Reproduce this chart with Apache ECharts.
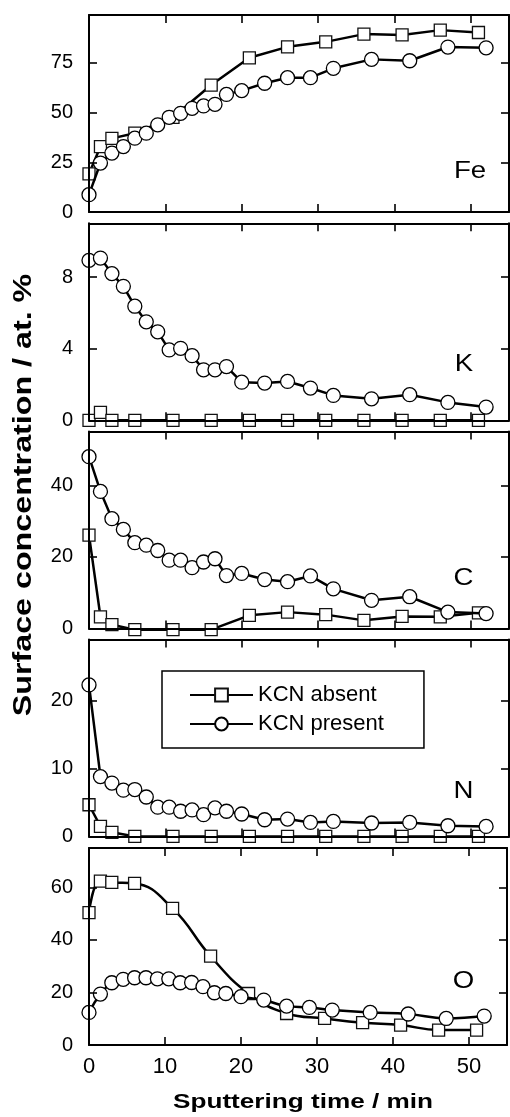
<!DOCTYPE html>
<html><head><meta charset="utf-8">
<script src="https://cdn.jsdelivr.net/npm/echarts@6/dist/echarts.min.js"></script>
<style>html,body{margin:0;padding:0;background:#fff}#c{width:510px;height:1117px}</style>
</head><body><div id="c"></div>
<script>
// ---- data ----
const timeAbsent = [0, 1.5, 3, 6, 11, 16, 21, 26, 31, 36, 41, 46, 51];
const timePresent = [0, 1.5, 3, 4.5, 6, 7.5, 9, 10.5, 12, 13.5, 15, 16.5, 18, 20, 23, 26, 29, 32, 37, 42, 47, 52];
const feAbsent = [19.2, 32.9, 37, 39.6, 47.6, 63.8, 77.5, 83, 85.5, 89.4, 89, 91.4, 90.2];
const fePresent = [8.7, 24.6, 29.6, 32.9, 37.1, 39.6, 43.8, 47.6, 49.6, 52.1, 53.3, 54.1, 59.1, 61, 64.7, 67.5, 67.5, 72.2, 76.7, 76, 82.9, 82.5];
const kAbsent = [0, 0.44, 0, 0, 0, 0, 0, 0, 0, 0, 0, 0, 0];
const kPresent = [8.93, 9.06, 8.19, 7.48, 6.37, 5.5, 4.94, 3.93, 4.02, 3.61, 2.82, 2.82, 3.0, 2.13, 2.08, 2.17, 1.8, 1.39, 1.2, 1.43, 1.0, 0.74];
const cAbsent = [26.1, 3.3, 1.1, -0.3, -0.3, -0.3, 3.7, 4.6, 3.9, 2.3, 3.4, 3.3, 4.4];
const cPresent = [48.0, 38.3, 30.7, 27.7, 24.0, 23.3, 21.8, 19.1, 19.1, 17.0, 18.6, 19.5, 14.8, 15.4, 13.7, 13.1, 14.7, 11.1, 7.9, 8.9, 4.6, 4.2];
const nAbsent = [4.66, 1.47, 0.6, 0, 0, 0, 0, 0, 0, 0, 0, 0, 0];
const nPresent = [22.3, 8.8, 7.85, 6.8, 6.9, 5.8, 4.3, 4.3, 3.7, 3.9, 3.2, 4.2, 3.7, 3.3, 2.45, 2.55, 2.06, 2.2, 1.97, 2.06, 1.57, 1.47];
const oAbsent = [50.4, 62.4, 61.9, 61.5, 52.0, 33.8, 19.6, 12.0, 10.1, 8.5, 7.6, 5.7, 5.7];
const oPresent = [12.4, 19.4, 23.7, 25.0, 25.6, 25.6, 25.2, 25.2, 23.7, 23.8, 22.2, 19.9, 19.6, 18.4, 17.1, 14.8, 14.3, 13.3, 12.4, 11.8, 10.1, 11.0];
const panelNames = ['Fe', 'K', 'C', 'N', 'O'];
const yMax = [99, 11, 55, 29, 75];
const yStep = [25, 4, 20, 10, 20];
const xMax = 55, xStep = 10;
const seriesNames = ['KCN absent', 'KCN present'];
const xTitle = 'Sputtering time / min';
const yTitle = 'Surface concentration / at. %';

// ---- layout ----
const absentAll = [feAbsent, kAbsent, cAbsent, nAbsent, oAbsent];
const presentAll = [fePresent, kPresent, cPresent, nPresent, oPresent];
const tops = [15, 223.3, 431.6, 639.4, 848];
const H = 197;
const labelPos = [[470, 171.5], [464, 364.7], [463.5, 578], [463.5, 791.7], [463.5, 981.7]];
const FONT = '"Liberation Sans", Arial, sans-serif';

const grids = [], xAxes = [], yAxes = [], series = [], graphics = [];
const lineAx = {show: true, onZero: false, lineStyle: {color: '#000', width: 2}};
const tickAx = {show: true, inside: true, length: 8, lineStyle: {color: '#000', width: 1.6}};

for (let i = 0; i < 5; i++) {
  grids.push({left: 89, top: tops[i], width: 420, height: H});
  const last = i === 4;
  xAxes.push({gridIndex: i, type: 'value', min: 0, max: xMax, interval: xStep, position: 'bottom', z: 5,
    axisLine: lineAx, axisTick: tickAx, splitLine: {show: false},
    axisLabel: {show: last, margin: 11, fontSize: 22, color: '#000', fontFamily: FONT,
      formatter: v => (v % xStep === 0 ? String(v) : '')}});
  xAxes.push({gridIndex: i, type: 'value', min: 0, max: xMax, interval: xStep, position: 'top', z: 5,
    axisLine: lineAx, axisTick: tickAx, splitLine: {show: false}, axisLabel: {show: false}});
  const st = yStep[i];
  yAxes.push({gridIndex: i, type: 'value', min: 0, max: yMax[i], interval: st, position: 'left', z: 5,
    axisLine: lineAx, axisTick: tickAx, splitLine: {show: false},
    axisLabel: {margin: 16, fontSize: 20, color: '#000', fontFamily: FONT,
      formatter: v => (v % st === 0 ? String(v) : '')}});
  yAxes.push({gridIndex: i, type: 'value', min: 0, max: yMax[i], interval: st, position: 'right', z: 5,
    axisLine: lineAx, axisTick: tickAx, splitLine: {show: false}, axisLabel: {show: false}});
  const smooth = i === 4 ? 0.45 : false;
  series.push({name: seriesNames[0], type: 'line', xAxisIndex: 2 * i, yAxisIndex: 2 * i, z: 2, clip: false,
    data: timeAbsent.map((t, j) => [t, absentAll[i][j]]), smooth: smooth,
    symbol: 'rect', symbolSize: 12,
    itemStyle: {color: '#fff', borderColor: '#111', borderWidth: 1.3},
    lineStyle: {color: '#000', width: 2.5}, emphasis: {disabled: true}});
  series.push({name: seriesNames[1], type: 'line', xAxisIndex: 2 * i, yAxisIndex: 2 * i, z: 3, clip: false,
    data: timePresent.map((t, j) => [t, presentAll[i][j]]), smooth: smooth,
    symbol: 'circle', symbolSize: 14,
    itemStyle: {color: '#fff', borderColor: '#000', borderWidth: 1.3},
    lineStyle: {color: '#000', width: 2.5}, emphasis: {disabled: true}});
  graphics.push({type: 'text', x: labelPos[i][0], y: labelPos[i][1], scaleX: 1.15, z: 10,
    style: {text: panelNames[i], fontSize: 24, fontFamily: FONT, fill: '#000',
      align: 'center', verticalAlign: 'middle', textAlign: 'center', textVerticalAlign: 'middle'}});
}
graphics.push({type: 'text', x: 303, y: 1102.5, scaleX: 1.245, z: 10,
  style: {text: xTitle, fontSize: 21, fontWeight: 'bold', fontFamily: FONT, fill: '#000',
    align: 'center', verticalAlign: 'middle', textAlign: 'center', textVerticalAlign: 'middle'}});
graphics.push({type: 'text', x: 23.6, y: 495, rotation: Math.PI / 2, scaleX: 1.24, z: 10,
  style: {text: yTitle, fontSize: 26, fontWeight: 'bold', fontFamily: FONT, fill: '#000',
    align: 'center', verticalAlign: 'middle', textAlign: 'center', textVerticalAlign: 'middle'}});

const chart = echarts.init(document.getElementById('c'), null, {renderer: 'canvas'});
chart.setOption({
  animation: false,
  backgroundColor: '#fff',
  grid: grids, xAxis: xAxes, yAxis: yAxes, series: series,
  legend: {data: seriesNames, orient: 'vertical', left: 162, top: 671,
    padding: [13, 40, 13, 27], itemGap: 7, itemWidth: 63, itemHeight: 16,
    borderColor: '#000', borderWidth: 1.5, borderRadius: 0, backgroundColor: '#fff',
    selectedMode: false, z: 20,
    textStyle: {fontSize: 22, color: '#000', fontFamily: FONT}},
  graphic: graphics
});
</script></body></html>
